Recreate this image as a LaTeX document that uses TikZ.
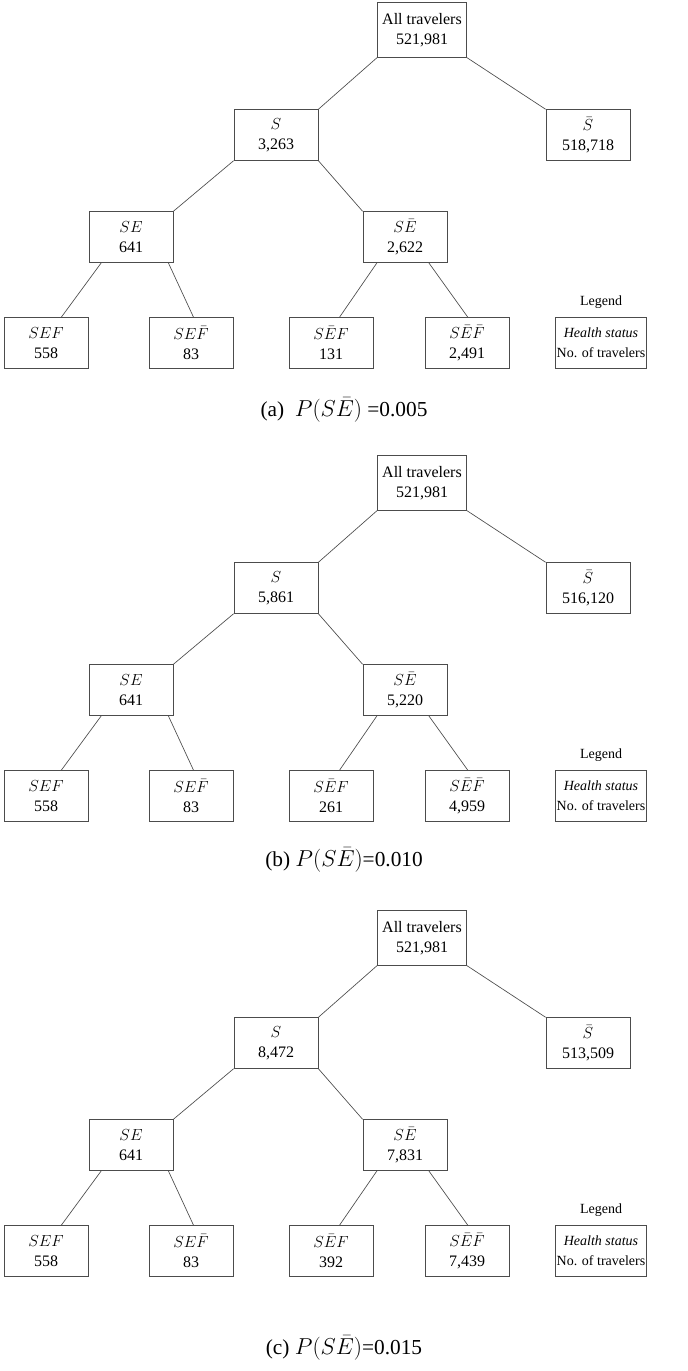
\documentclass[tikz,border=0pt]{standalone}
\usepackage{fontspec}
\setmainfont{Liberation Serif}
\usetikzlibrary{calc}
\tikzset{
  hbox/.style={draw=black!70,line width=0.6pt,minimum width=63pt,minimum height=38pt,align=center,inner sep=1pt,font=\fontsize{12}{15}\selectfont},
  topbox/.style={hbox,minimum width=67pt,minimum height=41pt},
  legbox/.style={hbox,minimum width=59pt,font=\fontsize{10.5}{15}\selectfont},
  link/.style={draw=black!70,line width=0.5pt}
}
% #1 shift, #2 S, #3 S-bar, #4 SE-bar, #5 SE-bar F, #6 SE-bar F-bar, #7 caption y, #8 caption
\newcommand\drawpanel[8]{%
\begin{scope}[yshift=-0.75*#1pt]
% Nodes
\node[topbox] (all) at (422,30) {All travelers\\521,981};
\node[hbox] (s) at (276,135) {$S$\\#2};
\node[hbox] (sn) at (588,135) {$\bar{S}$\\#3};
\node[hbox] (se) at (131,237) {$SE$\\641};
\node[hbox] (sen) at (405,237) {$S\bar{E}$\\#4};
\node[hbox] (sef) at (46,343) {$SEF$\\558};
\node[hbox] (sefn) at (191,343) {$SE\bar{F}$\\83};
\node[hbox] (senf) at (331,343) {$S\bar{E}F$\\#5};
\node[hbox] (senfn) at (467,343) {$S\bar{E}\bar{F}$\\#6};
\node[legbox] (leg) at (601,343) {\textit{Health status}\\No. of travelers};
\node[font=\fontsize{10.5}{12}\selectfont,anchor=south] (legt) at ($(leg.north)+(0,-4)$) {Legend};
\node[font=\fontsize{16}{18}\selectfont] (cap) at (344,#7) {#8};
% Links
\draw[link] (all.south west) -- (s.north east);
\draw[link] (all.south east) -- (sn.north west);
\draw[link] (s.south west) -- (se.north east);
\draw[link] (s.south east) -- (sen.north west);
\draw[link] ($(se.south west)!0.15!(se.south east)$) -- ($(sef.north west)!0.68!(sef.north east)$);
\draw[link] ($(se.south west)!0.94!(se.south east)$) -- ($(sefn.north west)!0.53!(sefn.north east)$);
\draw[link] ($(sen.south west)!0.17!(sen.south east)$) -- ($(senf.north west)!0.6!(senf.north east)$);
\draw[link] ($(sen.south west)!0.78!(sen.south east)$) -- ($(senfn.north west)!0.51!(senfn.north east)$);
\end{scope}}
\begin{document}
\begin{tikzpicture}[x=0.75pt,y=-0.75pt]
\useasboundingbox (0,0) rectangle (688,1371);
\drawpanel{0}{3,263}{518,718}{2,622}{131}{2,491}{410}{(a)\ \ $P(S\bar{E})$ =0.005}
\drawpanel{453}{5,861}{516,120}{5,220}{261}{4,959}{407}{(b) $P(S\bar{E})$=0.010}
\drawpanel{908}{8,472}{513,509}{7,831}{392}{7,439}{440}{(c) $P(S\bar{E})$=0.015}
\end{tikzpicture}
\end{document}
